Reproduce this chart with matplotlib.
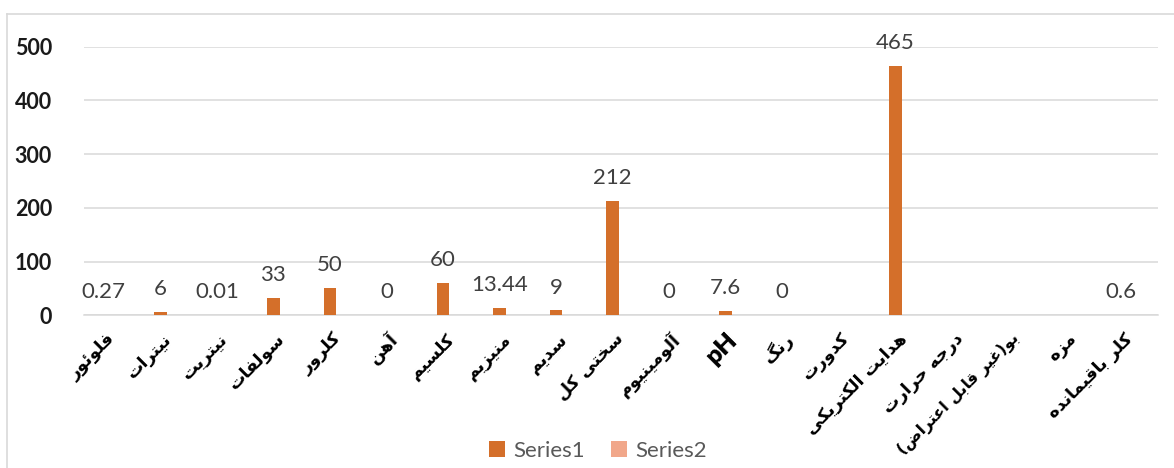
import numpy as np
import matplotlib
matplotlib.use("Agg")
import matplotlib.pyplot as plt
from matplotlib.lines import Line2D
from matplotlib.patches import Patch

categories = ["فلوئور", "نیترات", "نیتریت", "سولفات", "کلرور", "آهن", "کلسیم",
              "منیزیم", "سدیم", "سختی کل", "آلومینیوم", "pH", "رنگ", "کدورت",
              "هدایت الکتریکی", "درجه حرارت", "بو(غیر قابل اعتراض)", "مزه",
              "کلر باقیمانده"]
series1 = [0.27, 6, 0.01, 33, 50, 0, 60, 13.44, 9, 212, 0, 7.6, 0, None,
           465, None, None, None, 0.6]
series1_labels = ["0.27", "6", "0.01", "33", "50", "0", "60", "13.44", "9",
                  "212", "0", "7.6", "0", None, "465", None, None, None, "0.6"]
series2 = [None] * len(categories)
yticks = [0, 100, 200, 300, 400, 500]

# ---- minimal Arabic/Persian shaping (presentation forms) + RTL ordering ----
def _four(start):
    return tuple(chr(start + k) for k in range(4))

def _two(start):
    return (chr(start), chr(start + 1), None, None)

FORMS = {
    '\u0621': ('\uFE80', None, None, None),
    '\u0622': _two(0xFE81), '\u0623': _two(0xFE83), '\u0624': _two(0xFE85),
    '\u0625': _two(0xFE87), '\u0626': _four(0xFE89), '\u0627': _two(0xFE8D),
    '\u0628': _four(0xFE8F), '\u0629': _two(0xFE93), '\u062A': _four(0xFE95),
    '\u062B': _four(0xFE99), '\u062C': _four(0xFE9D), '\u062D': _four(0xFEA1),
    '\u062E': _four(0xFEA5), '\u062F': _two(0xFEA9), '\u0630': _two(0xFEAB),
    '\u0631': _two(0xFEAD), '\u0632': _two(0xFEAF), '\u0633': _four(0xFEB1),
    '\u0634': _four(0xFEB5), '\u0635': _four(0xFEB9), '\u0636': _four(0xFEBD),
    '\u0637': _four(0xFEC1), '\u0638': _four(0xFEC5), '\u0639': _four(0xFEC9),
    '\u063A': _four(0xFECD), '\u0641': _four(0xFED1), '\u0642': _four(0xFED5),
    '\u0643': _four(0xFED9), '\u0644': _four(0xFEDD), '\u0645': _four(0xFEE1),
    '\u0646': _four(0xFEE5), '\u0647': _four(0xFEE9), '\u0648': _two(0xFEED),
    '\u0649': _two(0xFEEF), '\u064A': _four(0xFEF1), '\u067E': _four(0xFB56),
    '\u0686': _four(0xFB7A), '\u0698': _two(0xFB8A), '\u06A9': _four(0xFB8E),
    '\u06AF': _four(0xFB92), '\u06CC': _four(0xFBFC),
}
MIRROR = {'(': ')', ')': '('}

def _jt(c):
    f = FORMS.get(c)
    if f is None:
        return 'U'
    if f[2] is not None:
        return 'D'
    if f[1] is not None:
        return 'R'
    return 'U'

def rtl(text):
    if all(ord(c) < 128 for c in text):
        return text
    chars = list(text)
    n = len(chars)
    out = []
    for i, c in enumerate(chars):
        f = FORMS.get(c)
        if f is None:
            out.append(c)
            continue
        pj = i > 0 and _jt(chars[i - 1]) == 'D' and _jt(c) in 'DR'
        nj = i < n - 1 and _jt(c) == 'D' and _jt(chars[i + 1]) in 'DR'
        if pj and nj:
            g = f[3]
        elif pj:
            g = f[1]
        elif nj:
            g = f[2]
        else:
            g = f[0]
        out.append(g)
    return ''.join(MIRROR.get(c, c) for c in reversed(out))

# ---- figure ----
W, H, DPI = 1174, 468, 100
fig = plt.figure(figsize=(W / DPI, H / DPI), dpi=DPI)
fig.patch.set_facecolor("white")

left, right = 84 / W, 1158 / W
top, bottom = 1 - 46.7 / H, 1 - 315.3 / H
ax = fig.add_axes([left, bottom, right - left, top - bottom])

x = np.arange(len(categories))
s1 = np.array([np.nan if v is None else v for v in series1], dtype=float)
s2 = np.array([np.nan if v is None else v for v in series2], dtype=float)
bw = 0.225
off = 0.15
c1, c2 = "#D46F2A", "#F1A78A"
ax.bar(x - off, np.nan_to_num(s1), width=bw, color=c1, zorder=3)
ax.bar(x + off, np.nan_to_num(s2), width=bw, color=c2, zorder=3)

for xi, v, lab in zip(x, s1, series1_labels):
    if lab is None:
        continue
    ax.annotate(lab, (xi - off, v), xytext=(0, 12.2), textcoords="offset points",
                ha="center", va="baseline", fontsize=16, color="#404040",
                family="Lato")

ax.set_xlim(-0.5, len(categories) - 0.5)
ax.set_ylim(0, 500)
ax.set_yticks(yticks)
ax.set_yticklabels([str(t) for t in yticks], fontsize=15.5, fontweight="bold",
                   family="Lato", color="#1a1a1a")
ax.tick_params(axis="y", length=0, pad=23)
ax.grid(axis="y", color="#D9D9D9", linewidth=1.1, zorder=0)
ax.set_axisbelow(True)
for sp in ["top", "right", "left"]:
    ax.spines[sp].set_visible(False)
ax.spines["bottom"].set_color("#D9D9D9")
ax.spines["bottom"].set_linewidth(1.1)

ax.set_xticks(x)
ticklabels = ax.set_xticklabels([rtl(c) for c in categories], rotation=45, ha="right",
                                va="center", rotation_mode="anchor", fontsize=12.6,
                                fontweight="bold", family="DejaVu Sans", color="black")
for t, c in zip(ticklabels, categories):
    if c == "pH":
        t.set_fontsize(18)
        t.set_family("Lato")
        t.set_fontweight("heavy")
    elif len(c) > 16:
        t.set_fontsize(11.4)
ax.tick_params(axis="x", length=0, pad=15)

handles = [Patch(facecolor=c1, label="Series1"), Patch(facecolor=c2, label="Series2")]
leg = fig.legend(handles=handles, loc="center", bbox_to_anchor=(598 / W, 1 - 451 / H),
                 ncol=2, frameon=False, prop={"family": "Lato", "size": 16},
                 handlelength=0.72, handleheight=0.72, handletextpad=0.35,
                 columnspacing=1.2, labelcolor="#595959")

# chart frame
fig.add_artist(Line2D([7 / W, 7 / W], [0, 1 - 14 / H], transform=fig.transFigure,
                      color="#D9D9D9", linewidth=1.2))
fig.add_artist(Line2D([7 / W, 1], [1 - 14 / H, 1 - 14 / H], transform=fig.transFigure,
                      color="#D9D9D9", linewidth=1.2))

fig.savefig("out.png", dpi=DPI)
